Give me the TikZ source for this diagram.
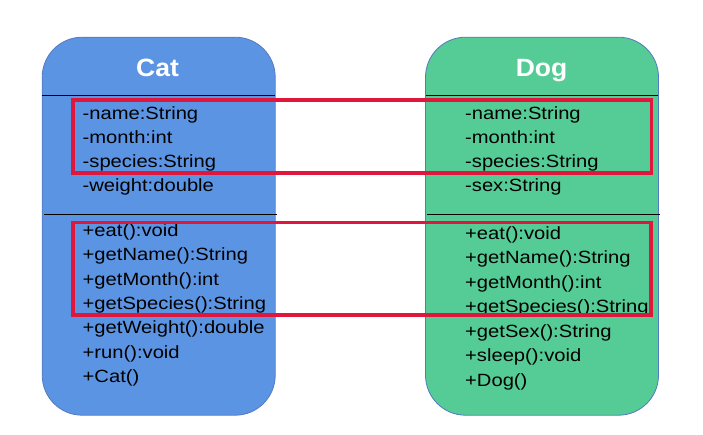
\documentclass[tikz,border=0pt]{standalone}
\usepackage{fontspec}
\newfontfamily\umlfont[FakeStretch=1.14]{Liberation Sans}
\newfontfamily\umltitle[FakeStretch=1.06]{Liberation Sans}
\definecolor{catfill}{HTML}{5C94E4}
\definecolor{dogfill}{HTML}{55CB96}
\definecolor{boxedge}{HTML}{5479C0}
\definecolor{hilite}{HTML}{E0173C}
\begin{document}
\begin{tikzpicture}[x=1pt,y=-1pt,
  classbox/.style={draw=boxedge, line width=0.8pt, rounded corners=40pt, minimum width=233pt, minimum height=378pt, inner sep=0pt},
  title/.style={font=\umltitle\fontsize{25}{25}\selectfont\bfseries, text=white, anchor=base, inner sep=0pt},
  member/.style={font=\umlfont\fontsize{17.7}{17.7}\selectfont, text=black, anchor=base west, inner sep=0pt},
  divider/.style={draw=black, line width=0.9pt},
  mark box/.style={draw=hilite, line width=3.8pt}]
\useasboundingbox (0,0) rectangle (703,434);
\node[classbox, fill=catfill] (cat) at (158.7,226.2) {};
\node[classbox, fill=dogfill] (dog) at (542,226.2) {};
\node[title] (cattitle) at (157.5,76.7) {Cat};
\node[title] (dogtitle) at (541.5,76.7) {Dog};
\coordinate (c1a) at (42.3,95.7); \coordinate (c1b) at (275.1,95.7);
\coordinate (c2a) at (44,214.3); \coordinate (c2b) at (277,214.3);
\coordinate (d1a) at (425.7,95.7); \coordinate (d1b) at (658.3,95.7);
\coordinate (d2a) at (427,214.3); \coordinate (d2b) at (660,214.3);
\draw[divider] (c1a) -- (c1b);
\draw[divider] (c2a) -- (c2b);
\draw[divider] (d1a) -- (d1b);
\draw[divider] (d2a) -- (d2b);
% Cat members
\node[member] (ca1) at (82.5,119.3) {-name:String};
\node[member] (ca2) at (82.5,143.5) {-month:int};
\node[member] (ca3) at (82.5,167.7) {-species:String};
\node[member] (ca4) at (82.5,191.9) {-weight:double};
\node[member] (cm1) at (82.5,236.3) {+eat():void};
\node[member] (cm2) at (82.5,260.7) {+getName():String};
\node[member] (cm3) at (82.5,285.1) {+getMonth():int};
\node[member] (cm4) at (82.5,309.5) {+getSpecies():String};
\node[member] (cm5) at (82.5,333.9) {+getWeight():double};
\node[member] (cm6) at (82.5,358.3) {+run():void};
\node[member] (cm7) at (82.5,382.7) {+Cat()};
% Dog members
\node[member] (da1) at (465,119.3) {-name:String};
\node[member] (da2) at (465,143.5) {-month:int};
\node[member] (da3) at (465,167.7) {-species:String};
\node[member] (da4) at (465,191.9) {-sex:String};
\node[member] (dm1) at (465,239.2) {+eat():void};
\node[member] (dm2) at (465,263.7) {+getName():String};
\node[member] (dm3) at (465,288.2) {+getMonth():int};
\node[member] (dm4) at (465,312.5) {+getSpecies():String};
\node[member] (dm5) at (465,337) {+getSex():String};
\node[member] (dm6) at (465,361.5) {+sleep():void};
\node[member] (dm7) at (465,386) {+Dog()};
% highlight rectangles
\coordinate (h1a) at (73.3,99.8); \coordinate (h1b) at (651.5,173);
\coordinate (h2a) at (73.3,222.5); \coordinate (h2b) at (651,315);
\draw[mark box] (h1a) rectangle (h1b);
\draw[mark box] (h2a) rectangle (h2b);
\end{tikzpicture}
\end{document}
